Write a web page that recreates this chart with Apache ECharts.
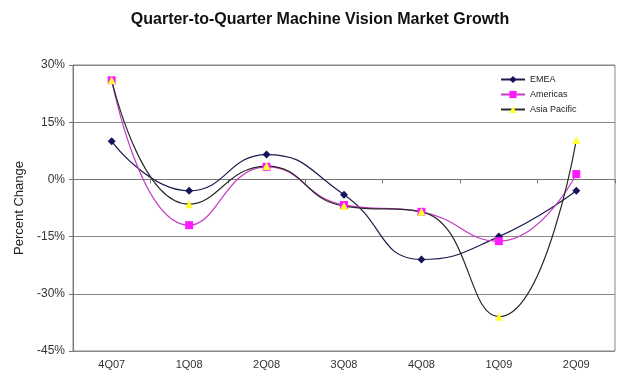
<!DOCTYPE html>
<html><head><meta charset="utf-8">
<script src="https://cdn.jsdelivr.net/npm/echarts@6/dist/echarts.min.js"></script>
<style>html,body{margin:0;padding:0;background:#fff}#c{width:640px;height:390px}</style>
</head><body><div id="c"></div>
<script>
const categories = ['4Q07','1Q08','2Q08','3Q08','4Q08','1Q09','2Q09'];
const emea = [10, -3, 6.5, -4, -21, -15, -3];
const americas = [26, -12, 3.3, -6.7, -8.5, -16.2, 1.4];
const asiaPacific = [26, -6.5, 3.5, -7, -8.5, -36, 10.3];
const yTicks = {min: -45, max: 30, step: 15};

const chart = echarts.init(document.getElementById('c'));
chart.setOption({
  animation: false,
  backgroundColor: '#fff',
  title: {
    text: 'Quarter-to-Quarter Machine Vision Market Growth',
    left: 'center', top: 7,
    textStyle: {fontFamily: 'Liberation Sans, Arial', fontSize: 16, fontWeight: 'bold', color: '#111'}
  },
  legend: {
    orient: 'vertical', left: 500, top: 75,
    padding: 0,
    itemGap: 6, itemWidth: 24, itemHeight: 9,
    textStyle: {fontFamily: 'Liberation Sans, Arial', fontSize: 9, color: '#222'},
    data: ['EMEA', 'Americas', 'Asia Pacific']
  },
  grid: {left: 73, right: 25, top: 65, bottom: 39, show: true, borderColor: '#888', borderWidth: 1},
  xAxis: {
    type: 'category', data: categories, boundaryGap: true,
    axisLine: {lineStyle: {color: '#777'}},
    axisTick: {show: true, length: 4, lineStyle: {color: '#777'}},
    axisLabel: {fontFamily: 'Liberation Sans, Arial', fontSize: 11, color: '#333', margin: 8}
  },
  yAxis: {
    type: 'value', min: yTicks.min, max: yTicks.max, interval: yTicks.step,
    name: 'Percent Change', nameLocation: 'middle', nameGap: 47,
    nameTextStyle: {fontFamily: 'Liberation Sans, Arial', fontSize: 13, color: '#222'},
    axisLine: {show: true, lineStyle: {color: '#777'}},
    axisTick: {show: true, length: 4, lineStyle: {color: '#777'}},
    splitLine: {lineStyle: {color: '#888', width: 1}},
    axisLabel: {formatter: '{value}%', fontFamily: 'Liberation Sans, Arial', fontSize: 12, color: '#333', margin: 8}
  },
  series: [
    {name: 'EMEA', type: 'line', data: emea, smooth: 0.5, symbol: 'diamond', symbolSize: 8,
     lineStyle: {color: '#1c1c4a', width: 1.2}, itemStyle: {color: '#14145a'}},
    {name: 'Americas', type: 'line', data: americas, smooth: 0.5, symbol: 'rect', symbolSize: 8,
     lineStyle: {color: '#c43ac4', width: 1.2}, itemStyle: {color: '#ff1aff'}},
    {name: 'Asia Pacific', type: 'line', data: asiaPacific, smooth: 0.5, symbol: 'triangle', symbolSize: 8,
     lineStyle: {color: '#2a2a2a', width: 1.2}, itemStyle: {color: '#ffff33'}}
  ]
});
</script></body></html>
